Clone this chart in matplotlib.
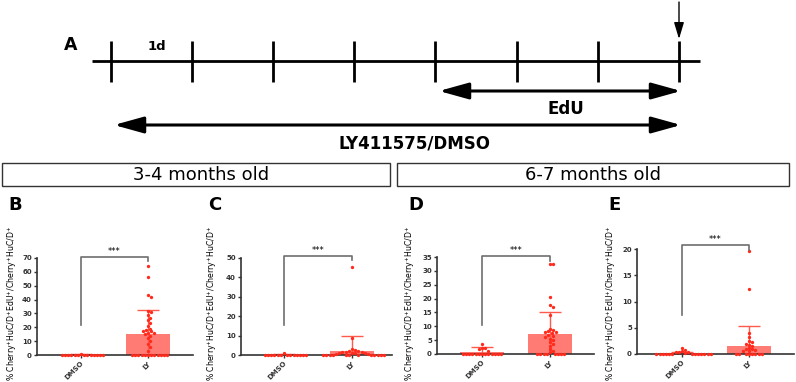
import matplotlib
matplotlib.use('Agg')
import matplotlib.pyplot as plt
from matplotlib.patches import FancyArrowPatch, Rectangle
import numpy as np

# figure size in pixels
W, H = 796, 382

groups = ['DMSO', 'LY']

# B: 3-4 months old
dmso_B = [1.0] + [0.0] * 13
ly_B = [64, 56, 43, 42, 32, 31, 29, 27, 25, 23, 21, 19, 18, 17, 17, 16, 16,
        15, 14, 12, 10, 8, 6, 3] + [0.0] * 12
mean_B = [0.3, 15.5]
sd_B = [0.4, 17.0]
bracket_B = [21.6, 70.9, 68.0]

# C: 3-4 months old
dmso_C = [1.0] + [0.0] * 13
ly_C = [45.5, 9.0, 3.0, 2.5, 2.0, 2.0, 1.8, 1.5, 1.5, 1.2, 1.0, 1.0, 0.8, 0.5,
        0.5] + [0.0] * 12
mean_C = [0.2, 1.9]
sd_C = [0.3, 7.8]
bracket_C = [15.5, 51.0, 49.0]

# D: 6-7 months old
dmso_D = [3.5, 2.3, 2.1, 1.9, 1.2] + [0.0] * 13
ly_D = [32.3, 32.3, 20.6, 17.8, 17.1, 14.2, 9.2, 8.5, 8.2, 8.0, 7.8, 7.5, 7.0,
        6.5, 6.2, 5.5, 5.0, 4.2, 3.5, 3.0, 1.8, 1.0, 0.6] + [0.0] * 8
mean_D = [0.85, 7.1]
sd_D = [1.8, 8.1]
bracket_D = [10.4, 35.4, 33.7]

# E: 6-7 months old
dmso_E = [1.1, 0.8, 0.5, 0.4, 0.3, 0.3, 0.2] + [0.0] * 13
ly_E = [19.6, 12.3, 4.0, 3.3, 2.5, 2.2, 2.0, 1.8, 1.5, 1.2, 1.0, 0.9, 0.8,
        0.6, 0.5] + [0.0] * 8
mean_E = [0.2, 1.5]
sd_E = [0.25, 3.9]
bracket_E = [7.5, 20.7, 19.9]

ylab = r'% Cherry$^{+}$HuC/D$^{+}$EdU$^{+}$/Cherry$^{+}$HuC/D$^{+}$'

BAR = '#ff7b74'
DOT = '#ff2a1c'
ERR = '#ff5a4c'
AXC = '#333333'


def fx(x):
    return x / W


def fy(y):
    return 1 - y / H


def swarm(vals, ppu, d=3.2):
    # simple beeswarm: x offsets in pixels, nothing random
    vals = np.asarray(vals, dtype=float)
    res = np.zeros(len(vals))
    placed = []
    for i in np.argsort(-vals):
        y = vals[i] * ppu
        k = 0
        while True:
            cands = [0.0] if k == 0 else [k * d / 2, -k * d / 2]
            good = None
            for c in cands:
                if all((c - px) ** 2 + (y - py) ** 2 >= d * d * 0.95 for px, py in placed):
                    good = c
                    break
            if good is not None:
                break
            k += 1
        placed.append((good, y))
        res[i] = good
    return res


fig = plt.figure(figsize=(W / 100, H / 100), dpi=100)
fig.patch.set_facecolor('white')

# ---- panel A: timeline ----
ov = fig.add_axes([0, 0, 1, 1])
ov.set_xlim(0, W)
ov.set_ylim(H, 0)
ov.axis('off')

ov.plot([92, 700], [61, 61], color='black', lw=2, solid_capstyle='butt')
for k in range(8):
    xt = 111 + 81.1 * k
    ov.plot([xt, xt], [41, 82], color='black', lw=2, solid_capstyle='butt')

ov.text(71, 45, 'A', fontsize=12.5, fontweight='bold', ha='center', va='center')
ov.text(157, 47, '1d', fontsize=9.5, fontweight='bold', ha='center', va='center')

ov.add_patch(FancyArrowPatch((679, 2), (679, 39), arrowstyle='-|>,head_length=1.0,head_width=0.3',
                             mutation_scale=10, lw=1, color='black', shrinkA=0, shrinkB=0))
ov.add_patch(FancyArrowPatch((439, 91), (681, 91), arrowstyle='<|-|>,head_length=1.8,head_width=0.5',
                             mutation_scale=10, lw=2.2, color='black', shrinkA=0, shrinkB=0))
ov.add_patch(FancyArrowPatch((114, 125), (681, 125), arrowstyle='<|-|>,head_length=1.8,head_width=0.5',
                             mutation_scale=10, lw=2.2, color='black', shrinkA=0, shrinkB=0))
ov.text(566, 109, 'EdU', fontsize=12, fontweight='bold', ha='center', va='center')
ov.text(415, 143, 'LY411575/DMSO', fontsize=12, fontweight='bold', ha='center', va='center')

# age boxes
ov.add_patch(Rectangle((2, 163), 388, 23, fill=False, lw=1, edgecolor='#333333'))
ov.add_patch(Rectangle((397, 163), 392, 23, fill=False, lw=1, edgecolor='#333333'))
ov.text(201, 175, '3-4 months old', fontsize=13, ha='center', va='center')
ov.text(593, 175, '6-7 months old', fontsize=13, ha='center', va='center')

# ---- panels B-E ----
panels = [
    ('B', dmso_B, ly_B, mean_B, sd_B, bracket_B, 70, 10, (37, 258, 193, 355), (81, 148), 8, 12),
    ('C', dmso_C, ly_C, mean_C, sd_C, bracket_C, 50, 10, (241, 258, 392, 355), (284, 352), 208, 212),
    ('D', dmso_D, ly_D, mean_D, sd_D, bracket_D, 35, 5, (437, 257, 594, 354), (482, 550), 408, 410),
    ('E', dmso_E, ly_E, mean_E, sd_E, bracket_E, 20, 5, (637, 249, 794, 354), (682, 749), 608, 611),
]

for letter, dm, ly, mean, sd, br, ymax, step, rect, cpos, lx, ylx in panels:
    x0, y0, x1, y1 = rect
    ax = fig.add_axes([fx(x0), fy(y1), (x1 - x0) / W, (y1 - y0) / H])
    sp = cpos[1] - cpos[0]
    ax.set_xlim((x0 - cpos[0]) / sp, (x1 - cpos[0]) / sp)
    ax.set_ylim(0, ymax)
    ppu = (y1 - y0) / ymax

    xs = np.arange(len(groups))
    ax.bar(xs, mean, width=0.66, color=BAR, zorder=1)
    ax.errorbar(xs, mean, yerr=sd, fmt='none', ecolor=ERR, elinewidth=1,
                capsize=8, capthick=1, zorder=2)
    for i, vals in enumerate([dm, ly]):
        off = swarm(vals, ppu) / sp
        ax.plot(i + off, vals, 'o', ms=2.4, color=DOT, mec='none', zorder=3, clip_on=False)

    ax.plot([0, 0, 1, 1], [br[0], br[1], br[1], br[2]], color='#6e6e6e', lw=1.2,
            clip_on=False, zorder=4)
    ax.text(0.5, br[1] + ymax * 0.012, '***', fontsize=6, ha='center', va='bottom')

    ax.set_yticks(np.arange(0, ymax + 1, step))
    ax.set_xticks(xs)
    ax.set_xticklabels(groups, rotation=45, ha='right', va='top', rotation_mode='anchor',
                       fontsize=5, fontweight='bold', color=AXC)
    for lab in ax.get_yticklabels():
        lab.set_fontsize(5)
        lab.set_fontweight('bold')
        lab.set_color(AXC)
    ax.tick_params(axis='both', length=2.5, width=1, color=AXC, pad=1.2)
    for s in ['top', 'right']:
        ax.spines[s].set_visible(False)
    for s in ['left', 'bottom']:
        ax.spines[s].set_linewidth(1.2)
        ax.spines[s].set_color(AXC)
    ax.set_facecolor('none')

    fig.text(fx(lx), fy(205), letter, fontsize=13, fontweight='bold', ha='left', va='center')
    fig.text(fx(ylx), fy(303), ylab, fontsize=5.6, rotation=90, ha='center', va='center')

fig.savefig('out.png', dpi=100)
